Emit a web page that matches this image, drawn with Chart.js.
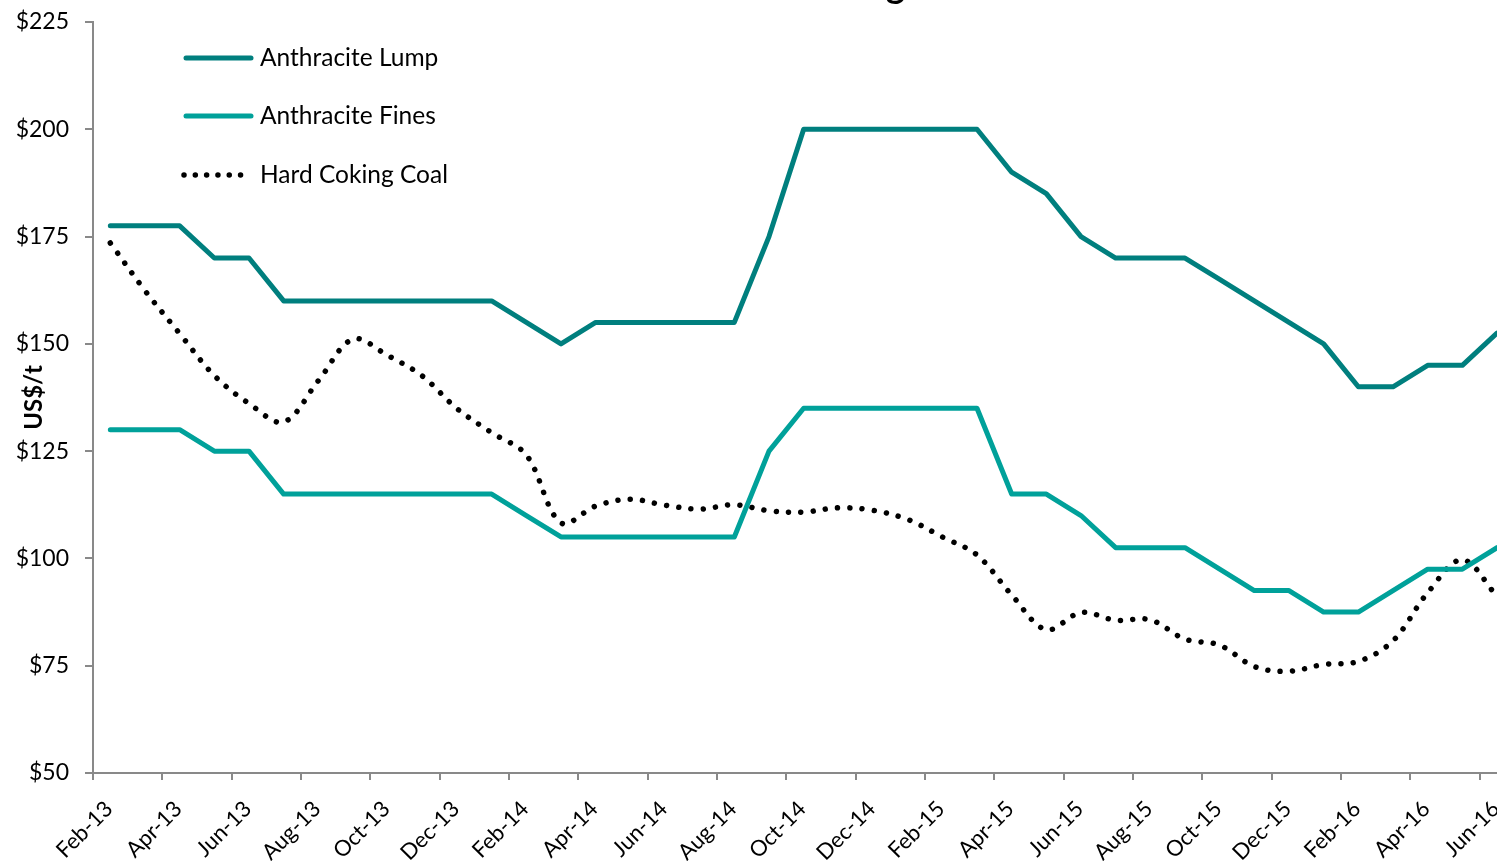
<!DOCTYPE html>
<html>
<head>
<meta charset="utf-8">
<script src="https://cdn.jsdelivr.net/npm/chart.js@4.4.1/dist/chart.umd.min.js"></script>
<style>
  html, body { margin: 0; padding: 0; background: #fff; overflow: hidden; }
</style>
</head>
<body>
<canvas id="coalChart" width="1497" height="861"></canvas>
<script>
// monthly categories, Feb-13 .. Jun-16
const months = [
  'Feb-13','Mar-13','Apr-13','May-13','Jun-13','Jul-13','Aug-13','Sep-13','Oct-13','Nov-13','Dec-13',
  'Jan-14','Feb-14','Mar-14','Apr-14','May-14','Jun-14','Jul-14','Aug-14','Sep-14','Oct-14','Nov-14','Dec-14',
  'Jan-15','Feb-15','Mar-15','Apr-15','May-15','Jun-15','Jul-15','Aug-15','Sep-15','Oct-15','Nov-15','Dec-15',
  'Jan-16','Feb-16','Mar-16','Apr-16','May-16','Jun-16'
];

const anthraciteLump = [
  177.5, 177.5, 177.5, 170, 170, 160, 160, 160, 160, 160, 160,
  160, 155, 150, 155, 155, 155, 155, 155, 175, 200, 200, 200,
  200, 200, 200, 190, 185, 175, 170, 170, 170, 165, 160, 155,
  150, 140, 140, 145, 145, 152.5
];

const anthraciteFines = [
  130, 130, 130, 125, 125, 115, 115, 115, 115, 115, 115,
  115, 110, 105, 105, 105, 105, 105, 105, 125, 135, 135, 135,
  135, 135, 135, 115, 115, 110, 102.5, 102.5, 102.5, 97.5, 92.5, 92.5,
  87.5, 87.5, 92.5, 97.5, 97.5, 102.5
];

const hardCokingCoal = [
  173.5, 162.4, 152.4, 142.6, 136.1, 131.8, 141.4, 151.1, 147.3, 142.5, 134.9,
  129.3, 124.1, 108.3, 112.2, 113.8, 112.4, 111.5, 112.5, 111.1, 110.8, 111.8, 111.2,
  109.1, 105.0, 100.8, 91.5, 83.4, 87.4, 85.6, 85.7, 81.2, 79.8, 74.8, 73.7,
  75.3, 76.0, 80.8, 92.0, 99.7, 91.2
];

const xTickLabels = ['Feb-13','Apr-13','Jun-13','Aug-13','Oct-13','Dec-13','Feb-14','Apr-14','Jun-14','Aug-14',
  'Oct-14','Dec-14','Feb-15','Apr-15','Jun-15','Aug-15','Oct-15','Dec-15','Feb-16','Apr-16','Jun-16'];
const yTicks = [50, 75, 100, 125, 150, 175, 200, 225];

const FONT = 'Lato, "Open Sans", sans-serif';
const axisGrey = '#898989';

function toPoints(arr) {
  return arr.map((v, i) => ({ x: i, y: v }));
}

// legend drawn inside the plot, top-left
const insideLegend = {
  id: 'insideLegend',
  afterDraw(chart) {
    const c = chart.ctx;
    const rows = [58, 116, 175];
    c.save();
    chart.data.datasets.forEach((ds, i) => {
      const y = rows[i];
      c.beginPath();
      c.lineWidth = ds.borderWidth;
      c.strokeStyle = ds.borderColor;
      c.lineCap = 'round';
      c.setLineDash(ds.borderDash ? [0.01, 11.3] : []);
      c.moveTo(ds.borderDash ? 184 : 186, y);
      c.lineTo(ds.borderDash ? 250 : 251, y);
      c.stroke();
      c.setLineDash([]);
      c.fillStyle = '#000';
      c.font = '24.5px ' + FONT;
      c.textBaseline = 'middle';
      c.textAlign = 'left';
      c.fillText(ds.label, 260, y);
    });
    c.restore();
  }
};

// chart title sits mostly above the visible area
const cutTitle = {
  id: 'cutTitle',
  afterDraw(chart) {
    const c = chart.ctx;
    c.save();
    c.font = 'bold 36px ' + FONT;
    c.fillStyle = '#000';
    c.textAlign = 'right';
    c.textBaseline = 'alphabetic';
    c.fillText('Anthracite Pricing', 905, -2);
    c.restore();
  }
};

const ctx = document.getElementById('coalChart');

new Chart(ctx, {
  type: 'line',
  data: {
    datasets: [
      {
        label: 'Anthracite Lump',
        data: toPoints(anthraciteLump),
        borderColor: '#007F7E',
        borderWidth: 5,
        pointRadius: 0,
        tension: 0,
        borderCapStyle: 'round',
        borderJoinStyle: 'round'
      },
      {
        label: 'Anthracite Fines',
        data: toPoints(anthraciteFines),
        borderColor: '#00A19A',
        borderWidth: 5,
        pointRadius: 0,
        tension: 0,
        borderCapStyle: 'round',
        borderJoinStyle: 'round'
      },
      {
        label: 'Hard Coking Coal',
        data: toPoints(hardCokingCoal),
        borderColor: '#000000',
        borderWidth: 5.5,
        borderDash: [0.01, 12.3],
        borderCapStyle: 'round',
        pointRadius: 0,
        tension: 0.35
      }
    ]
  },
  options: {
    responsive: false,
    devicePixelRatio: 1,
    animation: false,
    layout: { padding: { top: 22, right: 0, left: 0, bottom: 0 } },
    plugins: {
      legend: { display: false },
      tooltip: { enabled: false }
    },
    scales: {
      x: {
        type: 'linear',
        min: -0.5,
        max: 40,
        afterBuildTicks: (s) => {
          s.ticks = xTickLabels.map(l => ({ value: months.indexOf(l) - 0.5 }));
        },
        afterFit: (s) => {
          s.height = 88;
          s.paddingLeft = 0;
          s.paddingRight = 0;
        },
        ticks: {
          autoSkip: false,
          minRotation: 45,
          maxRotation: 45,
          labelOffset: 16,
          padding: 16,
          color: '#000',
          font: { family: FONT, size: 22 },
          callback: (v, i) => xTickLabels[i]
        },
        grid: {
          drawOnChartArea: false,
          drawTicks: true,
          tickLength: 7,
          color: axisGrey,
          lineWidth: 2
        },
        border: { color: axisGrey, width: 2 }
      },
      y: {
        min: 50,
        max: 225,
        afterBuildTicks: (s) => {
          s.ticks = yTicks.map(v => ({ value: v }));
        },
        afterFit: (s) => {
          s.width = 93;
          s.paddingTop = 0;
          s.paddingBottom = 0;
        },
        ticks: {
          padding: 16,
          color: '#000',
          font: { family: FONT, size: 23 },
          callback: v => '$' + v
        },
        grid: {
          drawOnChartArea: false,
          drawTicks: true,
          tickLength: 8,
          color: axisGrey,
          lineWidth: 2
        },
        border: { color: axisGrey, width: 2 },
        title: {
          display: true,
          text: 'US$/t',
          color: '#000',
          font: { family: FONT, size: 24, weight: 'bold' },
          padding: { top: 20, bottom: 0 }
        }
      }
    }
  },
  plugins: [insideLegend, cutTitle]
});
</script>
</body>
</html>
